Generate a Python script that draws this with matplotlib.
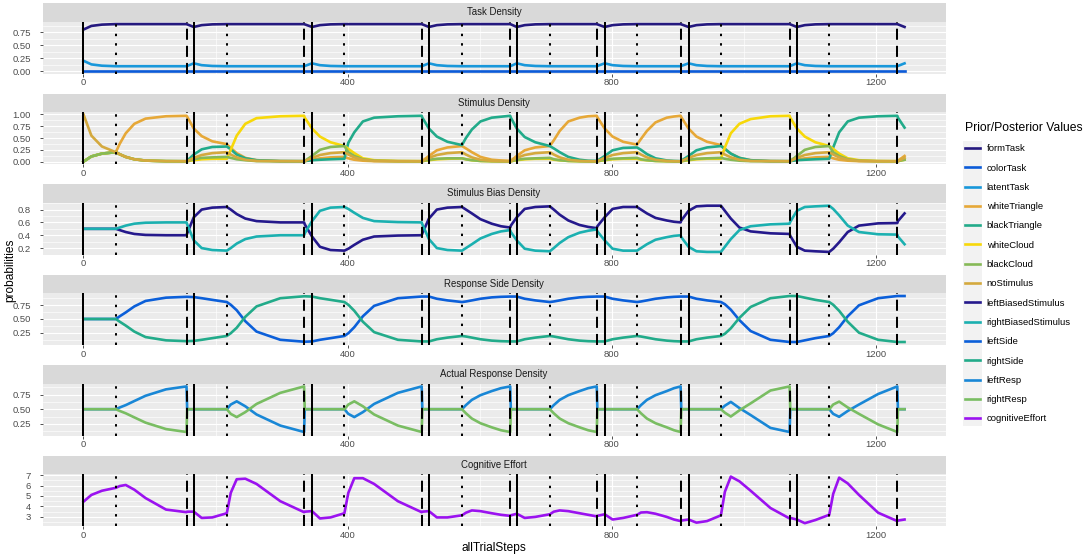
import matplotlib
matplotlib.use("Agg")
import matplotlib.pyplot as plt
from matplotlib.lines import Line2D
from matplotlib.patches import Rectangle

plt.rcParams['font.family'] = ['Liberation Sans', 'DejaVu Sans']

# knots along allTrialSteps, one row per trial:
# start, +12, +28, stim onset, +6, +15, +28, +45, mid, response end, end + 1
steps = [
    0, 12, 28, 49, 55, 64, 77, 94, 125, 156, 157,
    167, 179, 195, 217, 223, 232, 245, 262, 298, 334, 335,
    346, 358, 374, 395, 401, 410, 423, 440, 476, 512, 513,
    523, 535, 551, 573, 579, 588, 601, 618, 632, 646, 647,
    656, 668, 684, 706, 712, 721, 734, 751, 764, 777, 778,
    789, 801, 817, 838, 844, 853, 866, 883, 894, 904, 905,
    916, 928, 944, 965, 971, 980, 993, 1010, 1040, 1069, 1070,
    1080, 1092, 1108, 1129, 1135, 1144, 1157, 1174, 1203, 1232, 1233,
    1243,
]

trial_starts = [0, 167, 346, 523, 656, 789, 916, 1080]
stim_onsets = [49, 217, 395, 573, 706, 838, 965, 1129]
resp_ends = [156, 334, 512, 646, 777, 904, 1069, 1232]

form_task = [
    0.80, 0.87, 0.895, 0.905, 0.905, 0.905, 0.905, 0.905, 0.905, 0.905, 0.90,
    0.85, 0.885, 0.90, 0.905, 0.905, 0.905, 0.905, 0.905, 0.905, 0.905, 0.90,
    0.85, 0.885, 0.90, 0.905, 0.905, 0.905, 0.905, 0.905, 0.905, 0.905, 0.90,
    0.85, 0.885, 0.90, 0.905, 0.905, 0.905, 0.905, 0.905, 0.905, 0.905, 0.90,
    0.85, 0.885, 0.90, 0.905, 0.905, 0.905, 0.905, 0.905, 0.905, 0.905, 0.90,
    0.85, 0.885, 0.90, 0.905, 0.905, 0.905, 0.905, 0.905, 0.905, 0.905, 0.90,
    0.85, 0.885, 0.90, 0.905, 0.905, 0.905, 0.905, 0.905, 0.905, 0.905, 0.90,
    0.85, 0.885, 0.90, 0.905, 0.905, 0.905, 0.905, 0.905, 0.905, 0.905, 0.90,
    0.85,
]
color_task = [
    0.0, 0.0, 0.0, 0.0, 0.0, 0.0, 0.0, 0.0, 0.0, 0.0, 0.0,
    0.0, 0.0, 0.0, 0.0, 0.0, 0.0, 0.0, 0.0, 0.0, 0.0, 0.0,
    0.0, 0.0, 0.0, 0.0, 0.0, 0.0, 0.0, 0.0, 0.0, 0.0, 0.0,
    0.0, 0.0, 0.0, 0.0, 0.0, 0.0, 0.0, 0.0, 0.0, 0.0, 0.0,
    0.0, 0.0, 0.0, 0.0, 0.0, 0.0, 0.0, 0.0, 0.0, 0.0, 0.0,
    0.0, 0.0, 0.0, 0.0, 0.0, 0.0, 0.0, 0.0, 0.0, 0.0, 0.0,
    0.0, 0.0, 0.0, 0.0, 0.0, 0.0, 0.0, 0.0, 0.0, 0.0, 0.0,
    0.0, 0.0, 0.0, 0.0, 0.0, 0.0, 0.0, 0.0, 0.0, 0.0, 0.0,
    0.0,
]
latent_task = [
    0.20, 0.13, 0.105, 0.095, 0.095, 0.095, 0.095, 0.095, 0.095, 0.095, 0.10,
    0.15, 0.115, 0.10, 0.095, 0.095, 0.095, 0.095, 0.095, 0.095, 0.095, 0.10,
    0.15, 0.115, 0.10, 0.095, 0.095, 0.095, 0.095, 0.095, 0.095, 0.095, 0.10,
    0.15, 0.115, 0.10, 0.095, 0.095, 0.095, 0.095, 0.095, 0.095, 0.095, 0.10,
    0.15, 0.115, 0.10, 0.095, 0.095, 0.095, 0.095, 0.095, 0.095, 0.095, 0.10,
    0.15, 0.115, 0.10, 0.095, 0.095, 0.095, 0.095, 0.095, 0.095, 0.095, 0.10,
    0.15, 0.115, 0.10, 0.095, 0.095, 0.095, 0.095, 0.095, 0.095, 0.095, 0.10,
    0.15, 0.115, 0.10, 0.095, 0.095, 0.095, 0.095, 0.095, 0.095, 0.095, 0.10,
    0.15,
]

white_triangle = [
    0.00, 0.11, 0.17, 0.20, 0.38, 0.60, 0.80, 0.91, 0.96, 0.97, 0.95,
    0.70, 0.54, 0.43, 0.37, 0.29, 0.18, 0.08, 0.03, 0.012, 0.01, 0.012,
    0.04, 0.07, 0.09, 0.10, 0.07, 0.04, 0.02, 0.01, 0.006, 0.005, 0.015,
    0.12, 0.24, 0.30, 0.33, 0.28, 0.20, 0.10, 0.04, 0.025, 0.015, 0.02,
    0.12, 0.24, 0.30, 0.33, 0.45, 0.65, 0.85, 0.93, 0.96, 0.97, 0.94,
    0.70, 0.53, 0.42, 0.36, 0.48, 0.65, 0.83, 0.93, 0.955, 0.97, 0.94,
    0.70, 0.53, 0.42, 0.35, 0.27, 0.17, 0.08, 0.03, 0.012, 0.01, 0.012,
    0.04, 0.07, 0.09, 0.10, 0.07, 0.04, 0.02, 0.01, 0.006, 0.005, 0.02,
    0.12,
]
black_triangle = [
    0.00, 0.11, 0.17, 0.20, 0.155, 0.10, 0.05, 0.022, 0.01, 0.008, 0.02,
    0.15, 0.26, 0.31, 0.32, 0.26, 0.15, 0.07, 0.03, 0.012, 0.01, 0.012,
    0.03, 0.04, 0.05, 0.06, 0.40, 0.62, 0.85, 0.93, 0.96, 0.97, 0.93,
    0.70, 0.53, 0.42, 0.35, 0.50, 0.68, 0.85, 0.93, 0.95, 0.97, 0.93,
    0.70, 0.52, 0.41, 0.33, 0.28, 0.20, 0.10, 0.04, 0.02, 0.015, 0.02,
    0.12, 0.24, 0.29, 0.30, 0.25, 0.16, 0.07, 0.025, 0.015, 0.01, 0.02,
    0.12, 0.24, 0.30, 0.33, 0.27, 0.17, 0.08, 0.03, 0.012, 0.01, 0.012,
    0.03, 0.04, 0.05, 0.06, 0.30, 0.62, 0.85, 0.93, 0.96, 0.97, 0.93,
    0.72,
]
white_cloud = [
    0.00, 0.11, 0.17, 0.20, 0.155, 0.10, 0.05, 0.022, 0.01, 0.008, 0.01,
    0.03, 0.05, 0.06, 0.06, 0.25, 0.55, 0.80, 0.92, 0.96, 0.97, 0.93,
    0.70, 0.53, 0.41, 0.33, 0.27, 0.18, 0.07, 0.03, 0.012, 0.01, 0.012,
    0.03, 0.05, 0.06, 0.07, 0.05, 0.03, 0.015, 0.008, 0.005, 0.005, 0.008,
    0.03, 0.05, 0.06, 0.06, 0.04, 0.03, 0.015, 0.008, 0.005, 0.005, 0.008,
    0.03, 0.05, 0.06, 0.06, 0.04, 0.03, 0.015, 0.008, 0.005, 0.005, 0.008,
    0.03, 0.05, 0.06, 0.06, 0.30, 0.60, 0.80, 0.90, 0.96, 0.97, 0.93,
    0.70, 0.53, 0.41, 0.33, 0.27, 0.17, 0.07, 0.03, 0.012, 0.01, 0.012,
    0.04,
]
black_cloud = [
    0.00, 0.11, 0.17, 0.20, 0.155, 0.10, 0.05, 0.022, 0.01, 0.008, 0.01,
    0.05, 0.08, 0.09, 0.10, 0.08, 0.05, 0.03, 0.012, 0.006, 0.005, 0.015,
    0.12, 0.25, 0.31, 0.33, 0.20, 0.12, 0.05, 0.02, 0.01, 0.008, 0.01,
    0.04, 0.06, 0.07, 0.07, 0.05, 0.03, 0.015, 0.008, 0.005, 0.005, 0.008,
    0.04, 0.06, 0.07, 0.08, 0.05, 0.03, 0.015, 0.008, 0.005, 0.005, 0.008,
    0.04, 0.06, 0.07, 0.08, 0.05, 0.03, 0.015, 0.008, 0.005, 0.005, 0.008,
    0.04, 0.06, 0.07, 0.08, 0.06, 0.04, 0.02, 0.01, 0.006, 0.005, 0.015,
    0.12, 0.25, 0.31, 0.33, 0.20, 0.12, 0.05, 0.02, 0.01, 0.008, 0.01,
    0.04,
]
no_stimulus = [
    1.00, 0.55, 0.32, 0.20, 0.155, 0.10, 0.05, 0.022, 0.01, 0.008, 0.01,
    0.08, 0.14, 0.18, 0.20, 0.15, 0.09, 0.04, 0.015, 0.01, 0.008, 0.01,
    0.08, 0.14, 0.18, 0.20, 0.15, 0.09, 0.04, 0.015, 0.01, 0.008, 0.01,
    0.08, 0.14, 0.18, 0.20, 0.15, 0.09, 0.04, 0.015, 0.01, 0.008, 0.01,
    0.08, 0.14, 0.18, 0.20, 0.15, 0.09, 0.04, 0.015, 0.01, 0.008, 0.01,
    0.08, 0.14, 0.18, 0.20, 0.15, 0.09, 0.04, 0.015, 0.01, 0.008, 0.01,
    0.08, 0.14, 0.18, 0.20, 0.15, 0.09, 0.04, 0.015, 0.01, 0.008, 0.01,
    0.08, 0.14, 0.18, 0.20, 0.15, 0.09, 0.04, 0.015, 0.01, 0.008, 0.01,
    0.08,
]

left_biased = [
    0.50, 0.50, 0.50, 0.50, 0.48, 0.45, 0.42, 0.405, 0.40, 0.40, 0.43,
    0.68, 0.80, 0.83, 0.84, 0.80, 0.73, 0.66, 0.62, 0.60, 0.60, 0.57,
    0.38, 0.22, 0.17, 0.16, 0.19, 0.25, 0.33, 0.38, 0.395, 0.40, 0.43,
    0.66, 0.80, 0.83, 0.84, 0.80, 0.74, 0.65, 0.58, 0.54, 0.52, 0.55,
    0.68, 0.81, 0.84, 0.85, 0.80, 0.72, 0.63, 0.56, 0.53, 0.51, 0.54,
    0.68, 0.81, 0.84, 0.84, 0.80, 0.74, 0.67, 0.63, 0.61, 0.60, 0.63,
    0.78, 0.85, 0.86, 0.86, 0.78, 0.66, 0.52, 0.46, 0.43, 0.42, 0.39,
    0.22, 0.16, 0.15, 0.14, 0.19, 0.29, 0.45, 0.55, 0.585, 0.59, 0.62,
    0.74,
]
right_biased = [
    0.50, 0.50, 0.50, 0.50, 0.52, 0.55, 0.58, 0.595, 0.60, 0.60, 0.57,
    0.32, 0.20, 0.17, 0.16, 0.20, 0.27, 0.34, 0.38, 0.40, 0.40, 0.43,
    0.62, 0.78, 0.83, 0.84, 0.81, 0.75, 0.67, 0.62, 0.605, 0.60, 0.57,
    0.34, 0.20, 0.17, 0.16, 0.20, 0.26, 0.35, 0.42, 0.46, 0.48, 0.45,
    0.32, 0.19, 0.16, 0.15, 0.20, 0.28, 0.37, 0.44, 0.47, 0.49, 0.46,
    0.32, 0.19, 0.16, 0.16, 0.20, 0.26, 0.33, 0.37, 0.39, 0.40, 0.37,
    0.22, 0.15, 0.14, 0.14, 0.22, 0.34, 0.48, 0.54, 0.57, 0.58, 0.61,
    0.78, 0.84, 0.85, 0.86, 0.81, 0.71, 0.55, 0.45, 0.415, 0.41, 0.38,
    0.26,
]

left_side = [
    0.50, 0.50, 0.50, 0.50, 0.55, 0.62, 0.73, 0.83, 0.89, 0.905, 0.905,
    0.90, 0.88, 0.85, 0.81, 0.76, 0.66, 0.46, 0.27, 0.12, 0.085, 0.085,
    0.09, 0.12, 0.15, 0.19, 0.24, 0.35, 0.55, 0.74, 0.88, 0.91, 0.91,
    0.91, 0.87, 0.84, 0.81, 0.82, 0.84, 0.87, 0.895, 0.905, 0.91, 0.91,
    0.91, 0.87, 0.84, 0.81, 0.82, 0.84, 0.87, 0.895, 0.905, 0.91, 0.91,
    0.91, 0.87, 0.84, 0.81, 0.82, 0.84, 0.87, 0.895, 0.905, 0.91, 0.91,
    0.91, 0.87, 0.84, 0.81, 0.77, 0.67, 0.48, 0.28, 0.12, 0.08, 0.08,
    0.08, 0.11, 0.15, 0.19, 0.24, 0.35, 0.55, 0.75, 0.88, 0.92, 0.92,
    0.92,
]
right_side = [
    0.50, 0.50, 0.50, 0.50, 0.45, 0.38, 0.27, 0.17, 0.11, 0.095, 0.095,
    0.10, 0.12, 0.15, 0.19, 0.24, 0.34, 0.54, 0.73, 0.88, 0.915, 0.915,
    0.91, 0.88, 0.85, 0.81, 0.76, 0.65, 0.45, 0.26, 0.12, 0.09, 0.09,
    0.09, 0.13, 0.16, 0.19, 0.18, 0.16, 0.13, 0.105, 0.095, 0.09, 0.09,
    0.09, 0.13, 0.16, 0.19, 0.18, 0.16, 0.13, 0.105, 0.095, 0.09, 0.09,
    0.09, 0.13, 0.16, 0.19, 0.18, 0.16, 0.13, 0.105, 0.095, 0.09, 0.09,
    0.09, 0.13, 0.16, 0.19, 0.23, 0.33, 0.52, 0.72, 0.88, 0.92, 0.92,
    0.92, 0.89, 0.85, 0.81, 0.76, 0.65, 0.45, 0.25, 0.12, 0.08, 0.08,
    0.08,
]

left_resp = [
    0.50, 0.50, 0.50, 0.50, 0.53, 0.57, 0.64, 0.73, 0.84, 0.89, 0.50,
    0.50, 0.50, 0.50, 0.50, 0.58, 0.635, 0.55, 0.41, 0.22, 0.11, 0.50,
    0.50, 0.50, 0.50, 0.50, 0.42, 0.365, 0.45, 0.59, 0.78, 0.89, 0.50,
    0.50, 0.50, 0.50, 0.50, 0.57, 0.66, 0.74, 0.81, 0.86, 0.89, 0.50,
    0.50, 0.50, 0.50, 0.50, 0.57, 0.66, 0.74, 0.81, 0.86, 0.89, 0.50,
    0.50, 0.50, 0.50, 0.50, 0.57, 0.66, 0.74, 0.81, 0.86, 0.89, 0.50,
    0.50, 0.50, 0.50, 0.50, 0.56, 0.625, 0.52, 0.40, 0.18, 0.11, 0.50,
    0.50, 0.50, 0.50, 0.50, 0.42, 0.37, 0.47, 0.58, 0.76, 0.89, 0.50,
    0.50,
]
right_resp = [
    0.50, 0.50, 0.50, 0.50, 0.47, 0.43, 0.36, 0.27, 0.16, 0.11, 0.50,
    0.50, 0.50, 0.50, 0.50, 0.42, 0.365, 0.45, 0.59, 0.78, 0.89, 0.50,
    0.50, 0.50, 0.50, 0.50, 0.58, 0.635, 0.55, 0.41, 0.22, 0.11, 0.50,
    0.50, 0.50, 0.50, 0.50, 0.43, 0.34, 0.26, 0.19, 0.14, 0.11, 0.50,
    0.50, 0.50, 0.50, 0.50, 0.43, 0.34, 0.26, 0.19, 0.14, 0.11, 0.50,
    0.50, 0.50, 0.50, 0.50, 0.43, 0.34, 0.26, 0.19, 0.14, 0.11, 0.50,
    0.50, 0.50, 0.50, 0.50, 0.44, 0.375, 0.48, 0.60, 0.82, 0.89, 0.50,
    0.50, 0.50, 0.50, 0.50, 0.58, 0.63, 0.53, 0.42, 0.24, 0.11, 0.50,
    0.50,
]

cognitive_effort = [
    4.45, 5.10, 5.50, 5.78, 5.95, 6.05, 5.60, 4.80, 3.70, 3.45, 3.50,
    3.50, 2.90, 2.95, 3.35, 5.30, 6.60, 6.65, 6.15, 4.50, 3.45, 3.50,
    3.55, 2.85, 2.95, 3.35, 5.30, 6.70, 6.70, 6.15, 4.50, 3.45, 3.50,
    3.55, 2.95, 2.95, 3.15, 3.40, 3.62, 3.55, 3.35, 3.20, 3.10, 3.15,
    3.30, 2.90, 3.00, 3.25, 3.50, 3.62, 3.55, 3.35, 3.20, 3.05, 3.10,
    3.25, 2.75, 2.90, 3.20, 3.42, 3.45, 3.30, 3.00, 2.75, 2.60, 2.65,
    2.75, 2.45, 2.60, 3.15, 5.40, 6.85, 6.40, 5.50, 3.85, 2.85, 2.90,
    2.75, 2.40, 2.70, 3.20, 5.20, 6.75, 6.20, 5.10, 3.40, 2.60, 2.65,
    2.75,
]

series = {
    "formTask": form_task, "colorTask": color_task, "latentTask": latent_task,
    "whiteTriangle": white_triangle, "blackTriangle": black_triangle,
    "whiteCloud": white_cloud, "blackCloud": black_cloud, "noStimulus": no_stimulus,
    "leftBiasedStimulus": left_biased, "rightBiasedStimulus": right_biased,
    "leftSide": left_side, "rightSide": right_side,
    "leftResp": left_resp, "rightResp": right_resp,
    "cognitiveEffort": cognitive_effort,
}
colors = {
    "formTask": "#25197f", "colorTask": "#0b5bd8", "latentTask": "#1897da",
    "whiteTriangle": "#e6a838", "blackTriangle": "#22ab8a",
    "whiteCloud": "#f7d80a", "blackCloud": "#86b957", "noStimulus": "#d4a93e",
    "leftBiasedStimulus": "#25198c", "rightBiasedStimulus": "#1bb0b0",
    "leftSide": "#0b5fd9", "rightSide": "#22ab8a",
    "leftResp": "#1987d6", "rightResp": "#79bd62",
    "cognitiveEffort": "#9b12f0",
}

panel_titles = ["Task Density", "Stimulus Density", "Stimulus Bias Density",
                "Response Side Density", "Actual Response Density", "Cognitive Effort"]
panel_members = [
    ["formTask", "colorTask", "latentTask"],
    ["whiteTriangle", "blackTriangle", "whiteCloud", "blackCloud", "noStimulus"],
    ["leftBiasedStimulus", "rightBiasedStimulus"],
    ["leftSide", "rightSide"],
    ["leftResp", "rightResp"],
    ["cognitiveEffort"],
]
panel_ylims = [(-0.045, 0.955), (-0.05, 1.05), (0.10, 0.91),
               (0.025, 0.975), (0.05, 0.94), (2.13, 7.10)]
panel_yticks = [[0.0, 0.25, 0.5, 0.75], [0.0, 0.25, 0.5, 0.75, 1.0],
                [0.2, 0.4, 0.6, 0.8], [0.25, 0.5, 0.75], [0.25, 0.5, 0.75],
                [3, 4, 5, 6, 7]]
panel_fmt = ["{:.2f}", "{:.2f}", "{:.1f}", "{:.2f}", "{:.2f}", "{:.0f}"]
x_ticks = [0, 400, 800, 1200]

W, H = 1084, 558
fig = plt.figure(figsize=(W / 100, H / 100), dpi=100)

LEFT, WIDTH, PH, STRIP = 42.5, 903, 52, 18.5
for i, title in enumerate(panel_titles):
    top = 21.5 + i * 90.5
    ax = fig.add_axes([LEFT / W, 1 - (top + PH) / H, WIDTH / W, PH / H])
    ax.set_facecolor("#ebebeb")
    for s in ax.spines.values():
        s.set_visible(False)

    ylim = panel_ylims[i]
    yt = panel_yticks[i]
    ax.set_xlim(-62, 1305)
    ax.set_ylim(*ylim)
    ax.set_xticks(x_ticks)
    ax.set_xticklabels([str(t) for t in x_ticks])
    ax.set_xticks([200, 600, 1000], minor=True)
    ax.set_yticks(yt)
    ax.set_yticklabels([panel_fmt[i].format(t) for t in yt])
    d = yt[1] - yt[0]
    minor = [t + d / 2 for t in [yt[0] - d] + yt]
    ax.set_yticks([m for m in minor if ylim[0] <= m <= ylim[1]], minor=True)

    ax.grid(which="major", color="white", linewidth=0.85)
    ax.grid(which="minor", color="white", linewidth=0.45)
    ax.set_axisbelow(True)
    ax.tick_params(which="major", length=2.4, width=0.6, color="#333333",
                   labelcolor="#4d4d4d", labelsize=6.8)
    ax.tick_params(axis="y", which="major", pad=5.8)
    ax.tick_params(axis="x", which="major", pad=1.0)
    ax.tick_params(which="minor", length=0)

    for name in panel_members[i]:
        ax.plot(steps, series[name], color=colors[name], lw=1.9,
                solid_joinstyle="round", zorder=2)

    for x in trial_starts:
        ax.axvline(x, color="black", lw=1.45, zorder=4)
    for x in resp_ends:
        ax.axvline(x, color="black", lw=1.45, ls=(0, (5.5, 3.0)), zorder=4)
    for x in stim_onsets:
        ax.axvline(x, color="black", lw=1.45, ls=(0, (1.2, 3.5)), zorder=4)

    ax.add_patch(Rectangle((0, 1), 1, STRIP / PH, transform=ax.transAxes,
                           facecolor="#d9d9d9", edgecolor="none", clip_on=False))
    ax.text(0.5, 1 + STRIP / PH / 2, title, transform=ax.transAxes,
            ha="center", va="center", fontsize=6.9, color="#1a1a1a")

fig.text(10 / W, 1 - 270 / H, "probabilities", rotation=90,
         ha="center", va="center", fontsize=8.6)
fig.text(494 / W, 1 - 548 / H, "allTrialSteps",
         ha="center", va="center", fontsize=8.6)

# legend
fig.patches.append(Rectangle((963 / W, 1 - 426 / H), 19 / W, (426 - 141) / H,
                             transform=fig.transFigure, facecolor="#f2f2f2",
                             edgecolor="none", zorder=0))
handles = [Line2D([], [], color=colors[n], lw=1.9) for n in series]
leg = fig.legend(handles, list(series), loc="upper left",
                 bbox_to_anchor=(965 / W, 1 - 122 / H), frameon=False,
                 fontsize=6.8, title="Prior/Posterior Values", title_fontsize=8.7,
                 alignment="left", handlelength=1.55, handletextpad=0.75,
                 labelspacing=1.09, borderpad=0, borderaxespad=0)

fig.savefig("out.png", dpi=100)
